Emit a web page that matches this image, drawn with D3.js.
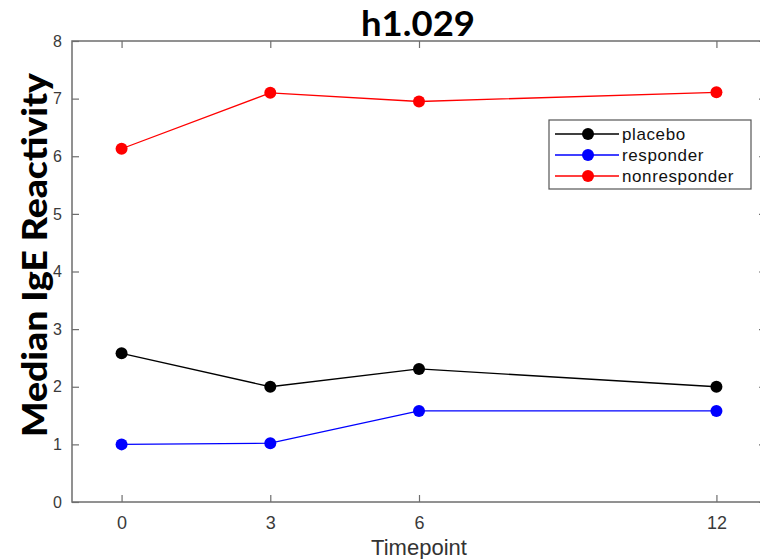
<!DOCTYPE html>
<html>
<head>
<meta charset="utf-8">
<script src="https://cdn.jsdelivr.net/npm/d3@7"></script>
<style>
  body { margin: 0; background: #fff; }
  svg { display: block; }
</style>
</head>
<body>
<svg id="chart" width="760" height="559"></svg>
<script>
// data
const timepoints = [0, 3, 6, 12];
const groups = ["placebo", "responder", "nonresponder"];
const colors = ["#000000", "#0000ff", "#ff0000"];
const placebo = [2.58, 2.0, 2.31, 2.0];
const responder = [1.0, 1.02, 1.58, 1.58];
const nonresponder = [6.13, 7.1, 6.95, 7.11];
const yTicks = [0, 1, 2, 3, 4, 5, 6, 7, 8];
const xTicks = [0, 3, 6, 12];

const series = [placebo, responder, nonresponder];

const svg = d3.select("#chart");
const plotL = 72, plotR = 766, plotT = 41, plotB = 502;

const x = d3.scaleLinear().domain([-1, 13]).range([plotL, plotR]);
const y = d3.scaleLinear().domain([0, 8]).range([plotB, plotT]);

const axisColor = "#6e6e6e";
const tickFont = "'Liberation Sans', Arial, sans-serif";

// box
svg.append("rect")
  .attr("x", plotL).attr("y", plotT)
  .attr("width", plotR - plotL).attr("height", plotB - plotT)
  .attr("fill", "none").attr("stroke", axisColor).attr("stroke-width", 1.5);

// axes, ticks inward like matlab
const gx = svg.append("g").attr("transform", `translate(0,${plotB})`)
  .call(d3.axisBottom(x).tickValues(xTicks).tickSize(-7).tickPadding(14));
const gxTop = svg.append("g").attr("transform", `translate(0,${plotT})`)
  .call(d3.axisTop(x).tickValues(xTicks).tickSize(-7).tickFormat(""));
const gy = svg.append("g").attr("transform", `translate(${plotL},0)`)
  .call(d3.axisLeft(y).tickValues(yTicks).tickSize(-7).tickPadding(10));
const gyRight = svg.append("g").attr("transform", `translate(${plotR},0)`)
  .call(d3.axisRight(y).tickValues(yTicks).tickSize(-7).tickFormat(""));

[gx, gxTop, gy, gyRight].forEach(g => {
  g.select(".domain").remove();
  g.selectAll(".tick line").attr("stroke", axisColor).attr("stroke-width", 1.2);
  g.selectAll(".tick text")
    .attr("fill", "#3a3a3a")
    .style("font-family", tickFont);
});
gx.selectAll(".tick text").style("font-size", "18px");
gy.selectAll(".tick text").style("font-size", "16px");

// lines and markers
const line = d3.line().x((d, i) => x(timepoints[i])).y(d => y(d));

series.forEach((vals, k) => {
  svg.append("path")
    .datum(vals)
    .attr("d", line)
    .attr("fill", "none")
    .attr("stroke", colors[k])
    .attr("stroke-width", 1.3);
  svg.append("g").selectAll("circle")
    .data(vals)
    .join("circle")
    .attr("cx", (d, i) => x(timepoints[i]))
    .attr("cy", d => y(d))
    .attr("r", 6)
    .attr("fill", colors[k]);
});

// legend
const lg = svg.append("g").attr("transform", "translate(549,120)");
lg.append("rect")
  .attr("width", 202).attr("height", 69)
  .attr("fill", "#fff").attr("stroke", "#555").attr("stroke-width", 1.2);
groups.forEach((name, k) => {
  const yy = 14 + k * 21;
  lg.append("line")
    .attr("x1", 6).attr("x2", 70).attr("y1", yy).attr("y2", yy)
    .attr("stroke", colors[k]).attr("stroke-width", 1.3);
  lg.append("circle").attr("cx", 39).attr("cy", yy).attr("r", 6).attr("fill", colors[k]);
  lg.append("text")
    .attr("x", 73).attr("y", yy + 6)
    .attr("fill", "#111")
    .style("font-family", tickFont)
    .style("font-size", "17px")
    .style("letter-spacing", "0.6px")
    .text(name);
});

// title and labels
svg.append("text")
  .attr("x", 418).attr("y", 36)
  .attr("text-anchor", "middle")
  .style("font-family", "Lato, 'Open Sans', sans-serif")
  .style("font-weight", "bold")
  .style("font-size", "35px")
  .attr("textLength", 114)
  .attr("lengthAdjust", "spacingAndGlyphs")
  .text("h1.029");

svg.append("text")
  .attr("x", 419).attr("y", 555)
  .attr("text-anchor", "middle")
  .attr("fill", "#333")
  .style("font-family", tickFont)
  .style("font-size", "22px")
  .text("Timepoint");

svg.append("text")
  .attr("transform", "translate(47,255) rotate(-90)")
  .attr("text-anchor", "middle")
  .style("font-family", "Lato, 'Open Sans', sans-serif")
  .style("font-weight", "900")
  .style("font-size", "34px")
  .attr("textLength", 364)
  .attr("lengthAdjust", "spacingAndGlyphs")
  .text("Median IgE Reactivity");
</script>
</body>
</html>
